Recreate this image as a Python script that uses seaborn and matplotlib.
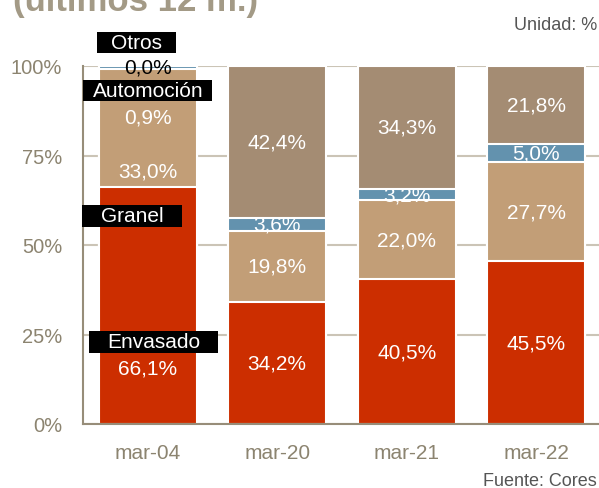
import numpy as np
import pandas as pd
import matplotlib.pyplot as plt
import seaborn as sns
from matplotlib.patches import Rectangle

# ==========================================================
# DATA (share by segment, %)
# ==========================================================
periods = ["mar-04", "mar-20", "mar-21", "mar-22"]
envasado = [66.1, 34.2, 40.5, 45.5]
granel = [33.0, 19.8, 22.0, 27.7]
automocion = [0.9, 3.6, 3.2, 5.0]
otros = [0.0, 42.4, 34.3, 21.8]
segment_names = ["Envasado", "Granel", "Automoción", "Otros"]

colors = ["#CC2E00", "#C29E77", "#6392AE", "#A48C73"]

# first bar labels were placed by hand in the original chart
first_bar_label_y = [15.6, 70.8, 85.8, 99.7]
first_bar_label_color = ["white", "white", "white", "black"]

# black name boxes (pixel box: left, top, right, bottom; text centre x)
name_boxes = {
    "Otros": (97, 33, 176, 54, 136),
    "Automoción": (83, 81, 212, 102, 148),
    "Granel": (82, 206, 182, 228, 132),
    "Envasado": (89, 332, 218, 354, 154),
}

sns.set_style("white")
plt.rcParams["font.family"] = ["Liberation Sans", "DejaVu Sans"]

W, H = 599, 489
fig = plt.figure(figsize=(W / 100, H / 100), dpi=100)
ax = fig.add_axes([83 / W, (H - 425) / H, (601 - 83) / W, (425 - 67) / H])

values = np.array([envasado, granel, automocion, otros])
cum = values.cumsum(axis=0)

# draw from the top layer down so each lower segment covers the one above
for i in reversed(range(len(segment_names))):
    sns.barplot(x=periods, y=cum[i], color=colors[i], saturation=1,
                width=0.76, edgecolor="white", linewidth=1.5, ax=ax, zorder=2)

ax.set_xlim(-0.5, 3.5)
ax.set_ylim(0, 100)
ax.set_yticks([0, 25, 50, 75, 100])
ax.set_yticklabels([f"{t}%" for t in [0, 25, 50, 75, 100]])
ax.yaxis.grid(True, color="#CBC4B6", linewidth=1.5)
ax.xaxis.grid(False)
ax.set_axisbelow(True)

label_color = "#8C8470"
ax.tick_params(axis="y", length=0, pad=15, labelsize=14.5, labelcolor=label_color)
ax.tick_params(axis="x", length=0, pad=14, labelsize=15, labelcolor=label_color)
for side in ["top", "right"]:
    ax.spines[side].set_visible(False)
for side in ["left", "bottom"]:
    ax.spines[side].set_color("#978D79")
    ax.spines[side].set_linewidth(1.5)
ax.set_xlabel("")
ax.set_ylabel("")

# value labels
for j in range(len(periods)):
    for i in range(len(segment_names)):
        text = f"{values[i, j]:.1f}%".replace(".", ",")
        if j == 0:
            y = first_bar_label_y[i]
            c = first_bar_label_color[i]
        else:
            y = cum[i, j] - values[i, j] / 2
            c = "white"
        ax.text(j, y, text, ha="center", va="center", fontsize=15,
                color=c, zorder=5, clip_on=False)

# black name boxes next to the first bar
for name, (x0, y0, x1, y1, xc) in name_boxes.items():
    fig.add_artist(Rectangle((x0 / W, 1 - y1 / H), (x1 - x0) / W, (y1 - y0) / H,
                             transform=fig.transFigure, facecolor="black",
                             edgecolor="none", zorder=6))
    fig.text(xc / W, 1 - (y0 + y1) / 2 / H, name, ha="center", va="center",
             fontsize=15, color="white", zorder=7)

# cut-off title (only its lower part is visible), unit and source
fig.text(13 / W, 1 - 11 / H, "(últimos 12 m.)", fontsize=25, fontweight="bold",
         color="#A39A86", va="baseline", ha="left")
fig.text(597 / W, 1 - 26 / H, "Unidad: %", ha="right", va="center",
         fontsize=13, color="#555555")
fig.text(597 / W, 1 - 482 / H, "Fuente: Cores", ha="right", va="center",
         fontsize=13, color="#555555")

fig.savefig("out.png", dpi=100)
